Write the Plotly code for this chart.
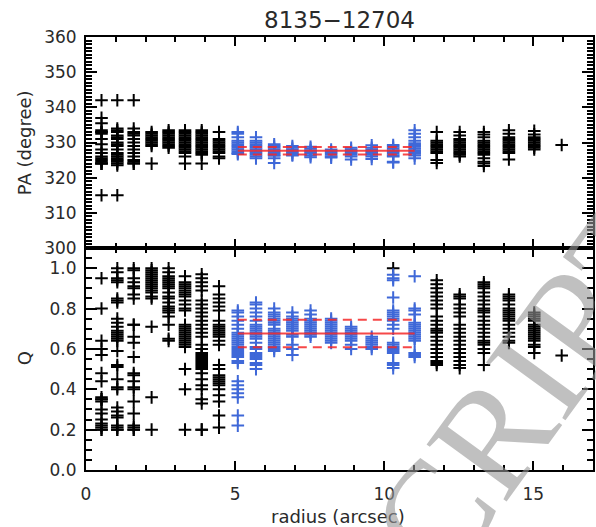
import plotly.graph_objects as go

# ---------------- data ----------------
radius = [0.52, 1.05, 1.60, 2.20, 2.77, 3.32, 3.88, 4.46,
          5.09, 5.70, 6.31, 6.92, 7.53, 8.22, 8.89, 9.58, 10.30, 11.02,
          11.76, 12.53, 13.34, 14.18, 15.03, 15.95]
blue_cols = list(range(8, 18))   # columns inside the fitted region

pa_values = [
    [342, 337, 335.5, 333.5, 333, 333, 332.5, 331, 329.5, 328, 327, 326, 325.5, 325, 324.5, 324, 324, 324, 315],
    [342, 334, 333.5, 333, 332, 331.5, 331, 330, 329.5, 329, 328, 327, 326.5, 326, 325.5, 325, 324.5, 324, 323.5, 315],
    [342, 334, 333, 332.5, 332, 331, 330, 329, 328, 327, 326, 325, 324.5, 324, 324],
    [333, 332.5, 332, 331.5, 331, 330.5, 330, 329.5, 329, 324],
    [333.5, 333, 332.5, 332, 331.5, 331, 330.5, 330, 329.5, 329, 328.5],
    [333.5, 333, 332.5, 332, 331.5, 331, 330.5, 330, 329.5, 329, 328.5, 328, 327.5, 327, 326, 324],
    [333.5, 333, 332.5, 332, 331.5, 331, 330.5, 330, 329.5, 329, 328.5, 328, 327.5, 327, 326.5, 324],
    [333, 331, 330.5, 330, 329.5, 329, 328.5, 328, 327.5, 327, 326, 325.5],
    [333, 332.5, 331.5, 330.5, 330, 329.5, 329, 328.5, 328, 327.5, 327, 326.7],
    [331.5, 330.5, 330, 329.5, 329, 328.5, 328, 327.5, 327, 326.5, 326, 325.5],
    [329.5, 329, 328.5, 328, 327.5, 327, 326.5, 326.2, 325.5, 324.2],
    [329, 328.5, 328, 327.5, 327, 326.5, 326.3],
    [328.8, 328.3, 327.8, 327.3, 326.8, 326.3, 325.8],
    [328, 327.5, 327, 326.5, 326, 325.7],
    [328.5, 328, 327.5, 327, 326.5, 326, 325.2],
    [329.2, 328.5, 328, 327.5, 327, 326.5, 326, 325.3],
    [329.3, 328.8, 328.3, 327.8, 327.3, 326.8, 326.3, 326, 324.5, 324.3],
    [333.5, 332.5, 331.5, 330.5, 329.8, 329.3, 328.8, 328.3, 327.8, 327.3, 326.8, 326.3, 325.5],
    [333, 330.5, 330, 329.5, 329, 328.5, 328, 327.5, 327, 325, 324.2],
    [333, 332, 331, 330.5, 330, 329.5, 329, 328.5, 328, 327.5, 327, 326.5, 326],
    [333, 332.3, 331.5, 330.5, 330, 329.5, 329, 328.5, 328, 327.5, 327, 326.5, 325.5, 324.5, 324, 323.3],
    [333.5, 332.5, 331.5, 331, 330.5, 330, 329.5, 329, 328.5, 328, 327.5, 327, 325.2],
    [333.3, 332.3, 331.5, 331, 330.5, 330, 329.5, 329, 328.5, 328],
    [329.3],
]

q_values = [
    [0.95, 0.80, 0.64, 0.60, 0.57, 0.48, 0.44, 0.36, 0.35, 0.35, 0.34, 0.30, 0.28, 0.25, 0.23, 0.22, 0.21, 0.20, 0.20],
    [1.0, 0.98, 0.95, 0.94, 0.93, 0.85, 0.84, 0.83, 0.75, 0.73, 0.71, 0.69, 0.68, 0.67, 0.66, 0.65, 0.64, 0.59, 0.52, 0.51, 0.45, 0.41, 0.40, 0.31, 0.29, 0.27, 0.26, 0.22, 0.21, 0.20, 0.20],
    [1.0, 0.99, 0.95, 0.93, 0.91, 0.90, 0.87, 0.85, 0.72, 0.72, 0.66, 0.63, 0.56, 0.48, 0.47, 0.44, 0.41, 0.40, 0.34, 0.28, 0.22, 0.21, 0.20, 0.20],
    [1.0, 0.99, 0.98, 0.97, 0.96, 0.95, 0.94, 0.93, 0.92, 0.91, 0.90, 0.89, 0.88, 0.86, 0.85, 0.71, 0.36, 0.20],
    [1.0, 0.98, 0.96, 0.95, 0.94, 0.93, 0.92, 0.91, 0.90, 0.88, 0.86, 0.85, 0.83, 0.81, 0.80, 0.79, 0.78, 0.76, 0.72, 0.65, 0.64],
    [0.96, 0.93, 0.92, 0.91, 0.90, 0.89, 0.88, 0.87, 0.86, 0.84, 0.82, 0.80, 0.79, 0.72, 0.71, 0.70, 0.69, 0.68, 0.67, 0.66, 0.65, 0.64, 0.63, 0.62, 0.61, 0.50, 0.40, 0.20],
    [0.97, 0.95, 0.93, 0.91, 0.89, 0.84, 0.82, 0.80, 0.78, 0.76, 0.74, 0.72, 0.70, 0.68, 0.66, 0.62, 0.60, 0.58, 0.57, 0.56, 0.55, 0.54, 0.53, 0.52, 0.51, 0.50, 0.48, 0.45, 0.42, 0.40, 0.35, 0.33, 0.20, 0.20],
    [0.91, 0.87, 0.85, 0.83, 0.81, 0.79, 0.74, 0.72, 0.71, 0.70, 0.69, 0.68, 0.67, 0.66, 0.64, 0.62, 0.52, 0.50, 0.47, 0.46, 0.45, 0.44, 0.43, 0.42, 0.40, 0.37, 0.34, 0.27, 0.21],
    [0.79, 0.78, 0.76, 0.74, 0.72, 0.70, 0.68, 0.67, 0.66, 0.65, 0.64, 0.63, 0.62, 0.61, 0.60, 0.59, 0.58, 0.57, 0.56, 0.54, 0.53, 0.44, 0.42, 0.40, 0.38, 0.36, 0.27, 0.22],
    [0.83, 0.82, 0.80, 0.78, 0.76, 0.74, 0.72, 0.71, 0.70, 0.69, 0.68, 0.67, 0.66, 0.65, 0.63, 0.61, 0.60, 0.58, 0.57, 0.56, 0.55, 0.53, 0.52, 0.50],
    [0.80, 0.78, 0.77, 0.76, 0.75, 0.74, 0.73, 0.72, 0.70, 0.69, 0.68, 0.67, 0.66, 0.65, 0.64, 0.63, 0.62, 0.61, 0.60, 0.59],
    [0.78, 0.76, 0.75, 0.74, 0.73, 0.72, 0.71, 0.70, 0.69, 0.67, 0.66, 0.62, 0.60, 0.57],
    [0.79, 0.77, 0.75, 0.74, 0.73, 0.72, 0.71, 0.70, 0.69, 0.68, 0.67, 0.66],
    [0.75, 0.74, 0.73, 0.72, 0.71, 0.70, 0.69, 0.68, 0.67, 0.66, 0.65, 0.64, 0.63],
    [0.71, 0.70, 0.69, 0.68, 0.67, 0.66, 0.65, 0.64, 0.62, 0.60],
    [0.66, 0.65, 0.64, 0.63, 0.62, 0.61, 0.60],
    [0.967, 0.95, 0.94, 0.855, 0.79, 0.78, 0.77, 0.76, 0.75, 0.74, 0.72, 0.70, 0.63, 0.62, 0.61, 0.60, 0.59, 0.58, 0.53, 0.52, 0.505],
    [0.96, 0.80, 0.79, 0.77, 0.73, 0.72, 0.71, 0.70, 0.69, 0.68, 0.67, 0.66, 0.65, 0.64, 0.58, 0.57, 0.56],
    [0.94, 0.92, 0.90, 0.88, 0.86, 0.84, 0.82, 0.80, 0.76, 0.74, 0.72, 0.70, 0.69, 0.68, 0.66, 0.64, 0.62, 0.60, 0.58, 0.56, 0.54, 0.53, 0.52],
    [0.87, 0.86, 0.85, 0.82, 0.80, 0.78, 0.76, 0.72, 0.70, 0.68, 0.66, 0.64, 0.62, 0.60, 0.58, 0.56, 0.54, 0.52, 0.505],
    [0.93, 0.92, 0.91, 0.90, 0.88, 0.86, 0.84, 0.82, 0.80, 0.79, 0.78, 0.76, 0.74, 0.72, 0.70, 0.68, 0.66, 0.64, 0.63, 0.62, 0.60, 0.58, 0.52],
    [0.87, 0.86, 0.85, 0.84, 0.82, 0.80, 0.79, 0.78, 0.77, 0.76, 0.75, 0.74, 0.72, 0.70, 0.68, 0.66, 0.64, 0.63],
    [0.78, 0.77, 0.76, 0.75, 0.74, 0.72, 0.71, 0.70, 0.69, 0.68, 0.67, 0.66, 0.65, 0.64, 0.62, 0.61, 0.58],
    [0.567],
]
q_extra_black_r = [10.30]
q_extra_black_q = [1.0]

pa_mean, pa_err = 327.65, 1.05
q_mean, q_err = 0.676, 0.068

title_text = "8135\u221212704"

# ---------------- figure ----------------
BLACK = "#000000"
BLUE = "#3f68d8"
RED = "rgba(245,40,40,0.85)"
TXT = "#2a2a2a"
FONT = "DejaVu Sans"

fig = go.Figure()

def add_points(xs, ys, color, xa, ya):
    fig.add_trace(go.Scatter(
        x=xs, y=ys, mode="markers", xaxis=xa, yaxis=ya,
        marker=dict(symbol="cross-thin-open", size=9, color=color,
                    line=dict(color=color, width=2)),
        showlegend=False, hoverinfo="skip"))

for color, cols in ((BLACK, [i for i in range(len(radius)) if i not in blue_cols]),
                    (BLUE, blue_cols)):
    xs_pa, ys_pa, xs_q, ys_q = [], [], [], []
    for i in cols:
        xs_pa += [radius[i]] * len(pa_values[i])
        ys_pa += pa_values[i]
        xs_q += [radius[i]] * len(q_values[i])
        ys_q += q_values[i]
    if color == BLACK:
        xs_q += q_extra_black_r
        ys_q += q_extra_black_q
    add_points(xs_pa, ys_pa, color, "x2", "y2")
    add_points(xs_q, ys_q, color, "x", "y")

r0, r1 = radius[blue_cols[0]], radius[blue_cols[-1]]
for (m, e, xa, ya) in ((pa_mean, pa_err, "x2", "y2"), (q_mean, q_err, "x", "y")):
    fig.add_trace(go.Scatter(x=[r0, r1], y=[m, m], mode="lines", xaxis=xa, yaxis=ya,
                             line=dict(color=RED, width=2), showlegend=False, hoverinfo="skip"))
    for v in (m - e, m + e):
        fig.add_trace(go.Scatter(x=[r0, r1], y=[v, v], mode="lines", xaxis=xa, yaxis=ya,
                                 line=dict(color=RED, width=2, dash="9px,6px"),
                                 showlegend=False, hoverinfo="skip"))

W, H = 596, 527
ML, MR, MT, MB = 86, 1, 37, 57
ph = H - MT - MB
split = (H - MB - 248) / ph

common_axis = dict(showline=True, linecolor="black", linewidth=2, mirror="ticks",
                   ticks="inside", tickcolor="black", tickwidth=1.5,
                   showgrid=False, zeroline=False,
                   tickfont=dict(family=FONT, size=17, color=TXT))

fig.update_layout(
    width=W, height=H,
    margin=dict(l=ML, r=MR, t=MT, b=MB),
    paper_bgcolor="white", plot_bgcolor="white",
    showlegend=False,
    xaxis=dict(common_axis, range=[0, 17], dtick=5, tick0=0, ticklen=9, anchor="y",
               ticklabelstandoff=8,
               minor=dict(dtick=1, ticklen=5, ticks="inside", tickcolor="black", tickwidth=1.5)),
    xaxis2=dict(common_axis, range=[0, 17], dtick=5, tick0=0, ticklen=9, anchor="y2",
                matches="x", showticklabels=False,
                minor=dict(dtick=1, ticklen=5, ticks="inside", tickcolor="black", tickwidth=1.5)),
    yaxis=dict(common_axis, domain=[0, split], range=[0, 1.1], dtick=0.2, tick0=0,
               tickformat=".1f", ticklen=11, ticklabelstandoff=4,
               minor=dict(dtick=0.05, ticklen=6, ticks="inside", tickcolor="black", tickwidth=1.5)),
    yaxis2=dict(common_axis, domain=[split, 1], range=[300, 360], dtick=10, tick0=300,
                ticklen=11, ticklabelstandoff=4,
                minor=dict(dtick=1, ticklen=6, ticks="inside", tickcolor="black", tickwidth=1.5)),
)

def px_x(px):
    return (px - ML) / (W - ML - MR)

def px_y(py):
    return (H - MB - py) / ph

annos = [
    dict(text=title_text, x=px_x(341), y=px_y(20), font=dict(family=FONT, size=23, color=TXT)),
    dict(text="PA (degree)", x=px_x(24), y=px_y(143), textangle=-90,
         font=dict(family=FONT, size=18, color=TXT)),
    dict(text="Q", x=px_x(24), y=px_y(358), textangle=-90,
         font=dict(family=FONT, size=18, color=TXT)),
    dict(text="radius (arcsec)", x=px_x(339), y=px_y(516),
         font=dict(family=FONT, size=18, color=TXT)),
    dict(text="CRIPT", x=px_x(530), y=px_y(385), textangle=-54,
         font=dict(family="Liberation Serif", size=150, color="rgba(150,150,150,0.6)")),
]
for a in annos:
    fig.add_annotation(xref="paper", yref="paper", showarrow=False,
                       xanchor="center", yanchor="middle", **a)

fig.write_html("out.html")
